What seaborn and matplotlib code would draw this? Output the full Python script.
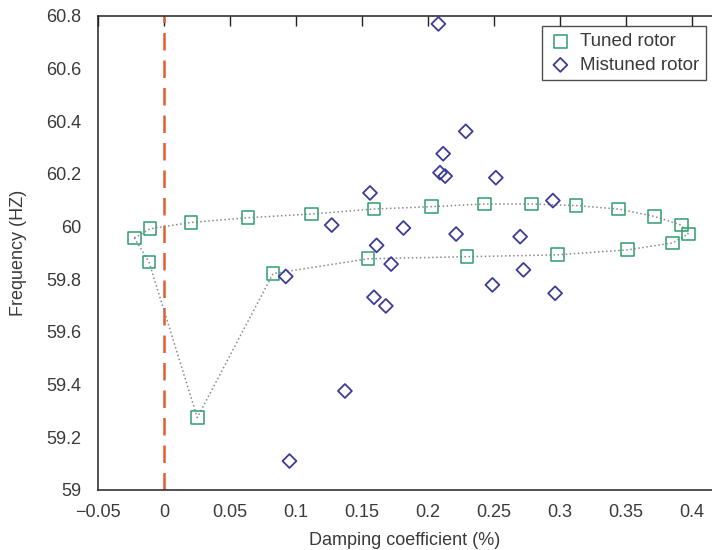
import numpy as np
import pandas as pd
import matplotlib
matplotlib.use('Agg')
import matplotlib.pyplot as plt
import seaborn as sns

# ── Data ────────────────────────────────────────────────────
# tuned rotor, in the order the dotted line joins them
tuned_x = [-0.0225, -0.0106, 0.0205, 0.0636, 0.1116, 0.159, 0.2028, 0.2427,
           0.2785, 0.312, 0.344, 0.3714, 0.3917, 0.397, 0.385, 0.351, 0.298,
           0.2295, 0.1545, 0.0826, 0.0252, -0.0114, -0.0225]
tuned_y = [59.957, 59.992, 60.016, 60.034, 60.048, 60.067, 60.076, 60.086,
           60.086, 60.080, 60.067, 60.039, 60.006, 59.972, 59.938, 59.912,
           59.893, 59.886, 59.878, 59.822, 59.275, 59.866, 59.957]

mistuned_x = [0.127, 0.156, 0.161, 0.159, 0.0922, 0.137, 0.095, 0.2078,
              0.2285, 0.2114, 0.209, 0.2129, 0.2513, 0.2945, 0.1813, 0.2212,
              0.2697, 0.172, 0.2722, 0.2487, 0.2962, 0.168]
mistuned_y = [60.006, 60.128, 59.929, 59.732, 59.811, 59.376, 59.110, 60.770,
              60.362, 60.277, 60.205, 60.192, 60.186, 60.099, 59.995, 59.972,
              59.962, 59.858, 59.836, 59.779, 59.747, 59.699]

x_ticks = [-0.05, 0, 0.05, 0.1, 0.15, 0.2, 0.25, 0.3, 0.35, 0.4]
x_tick_labels = ['\u22120.05', '0', '0.05', '0.1', '0.15', '0.2', '0.25', '0.3', '0.35', '0.4']
y_ticks = [59, 59.2, 59.4, 59.6, 59.8, 60, 60.2, 60.4, 60.6, 60.8]
y_tick_labels = ['59', '59.2', '59.4', '59.6', '59.8', '60', '60.2', '60.4', '60.6', '60.8']

tuned = pd.DataFrame({'x': tuned_x, 'y': tuned_y})
mistuned = pd.DataFrame({'x': mistuned_x, 'y': mistuned_y})

# ── Plot ─────────────────────────────────────────────────────
sns.set_style('white')
plt.rcParams['font.family'] = ['Liberation Sans', 'DejaVu Sans']
txt = '#3a3a3a'
green = '#2f9e6e'
blue = '#3c3c94'

fig = plt.figure(figsize=(7.12, 5.5), dpi=100)
ax = fig.add_axes([98 / 712, 1 - 490 / 550, 1 - 98 / 712, (490 - 16) / 550])

# dotted connecting line
sns.lineplot(data=tuned, x='x', y='y', sort=False, estimator=None, ax=ax,
             color='#8a8a8a', linestyle=':', linewidth=1.1, legend=False)

ax.axvline(0, color='#e85a32', linestyle=(0, (7, 4)), linewidth=1.8, zorder=1)

sns.scatterplot(data=tuned.iloc[:-1], x='x', y='y', ax=ax, marker='s', s=85,
                facecolor='none', edgecolor=green, linewidth=1.1,
                label='Tuned rotor', zorder=3)
sns.scatterplot(data=mistuned, x='x', y='y', ax=ax, marker='D', s=50,
                facecolor='none', edgecolor=blue, linewidth=1.3,
                label='Mistuned rotor', zorder=3)

ax.set_xlim(-0.05, 0.415)
ax.set_ylim(59, 60.8)
ax.set_xticks(x_ticks)
ax.set_xticklabels(x_tick_labels)
ax.set_yticks(y_ticks)
ax.set_yticklabels(y_tick_labels)
ax.tick_params(direction='in', length=7, width=1, colors='#222222',
               labelcolor=txt, labelsize=13, top=True)
ax.tick_params(axis='y', pad=12)
ax.tick_params(axis='x', pad=10)
for side in ['left', 'bottom', 'top']:
    ax.spines[side].set_color('#222222')
    ax.spines[side].set_linewidth(1.1)
ax.spines['right'].set_visible(False)

ax.set_xlabel('Damping coefficient (%)', fontsize=13, color=txt, labelpad=8)
ax.set_ylabel('Frequency (HZ)', fontsize=13, color=txt, labelpad=14)

leg = ax.legend(loc='upper right', bbox_to_anchor=(0.99, 0.978), fontsize=13.5,
                frameon=True, fancybox=False, borderpad=0.35, handletextpad=0.4,
                handlelength=1.3, labelspacing=0.35, borderaxespad=0)
leg.get_frame().set_edgecolor('#222222')
leg.get_frame().set_linewidth(1.0)
for t in leg.get_texts():
    t.set_color(txt)

plt.savefig('out.png', dpi=100)
